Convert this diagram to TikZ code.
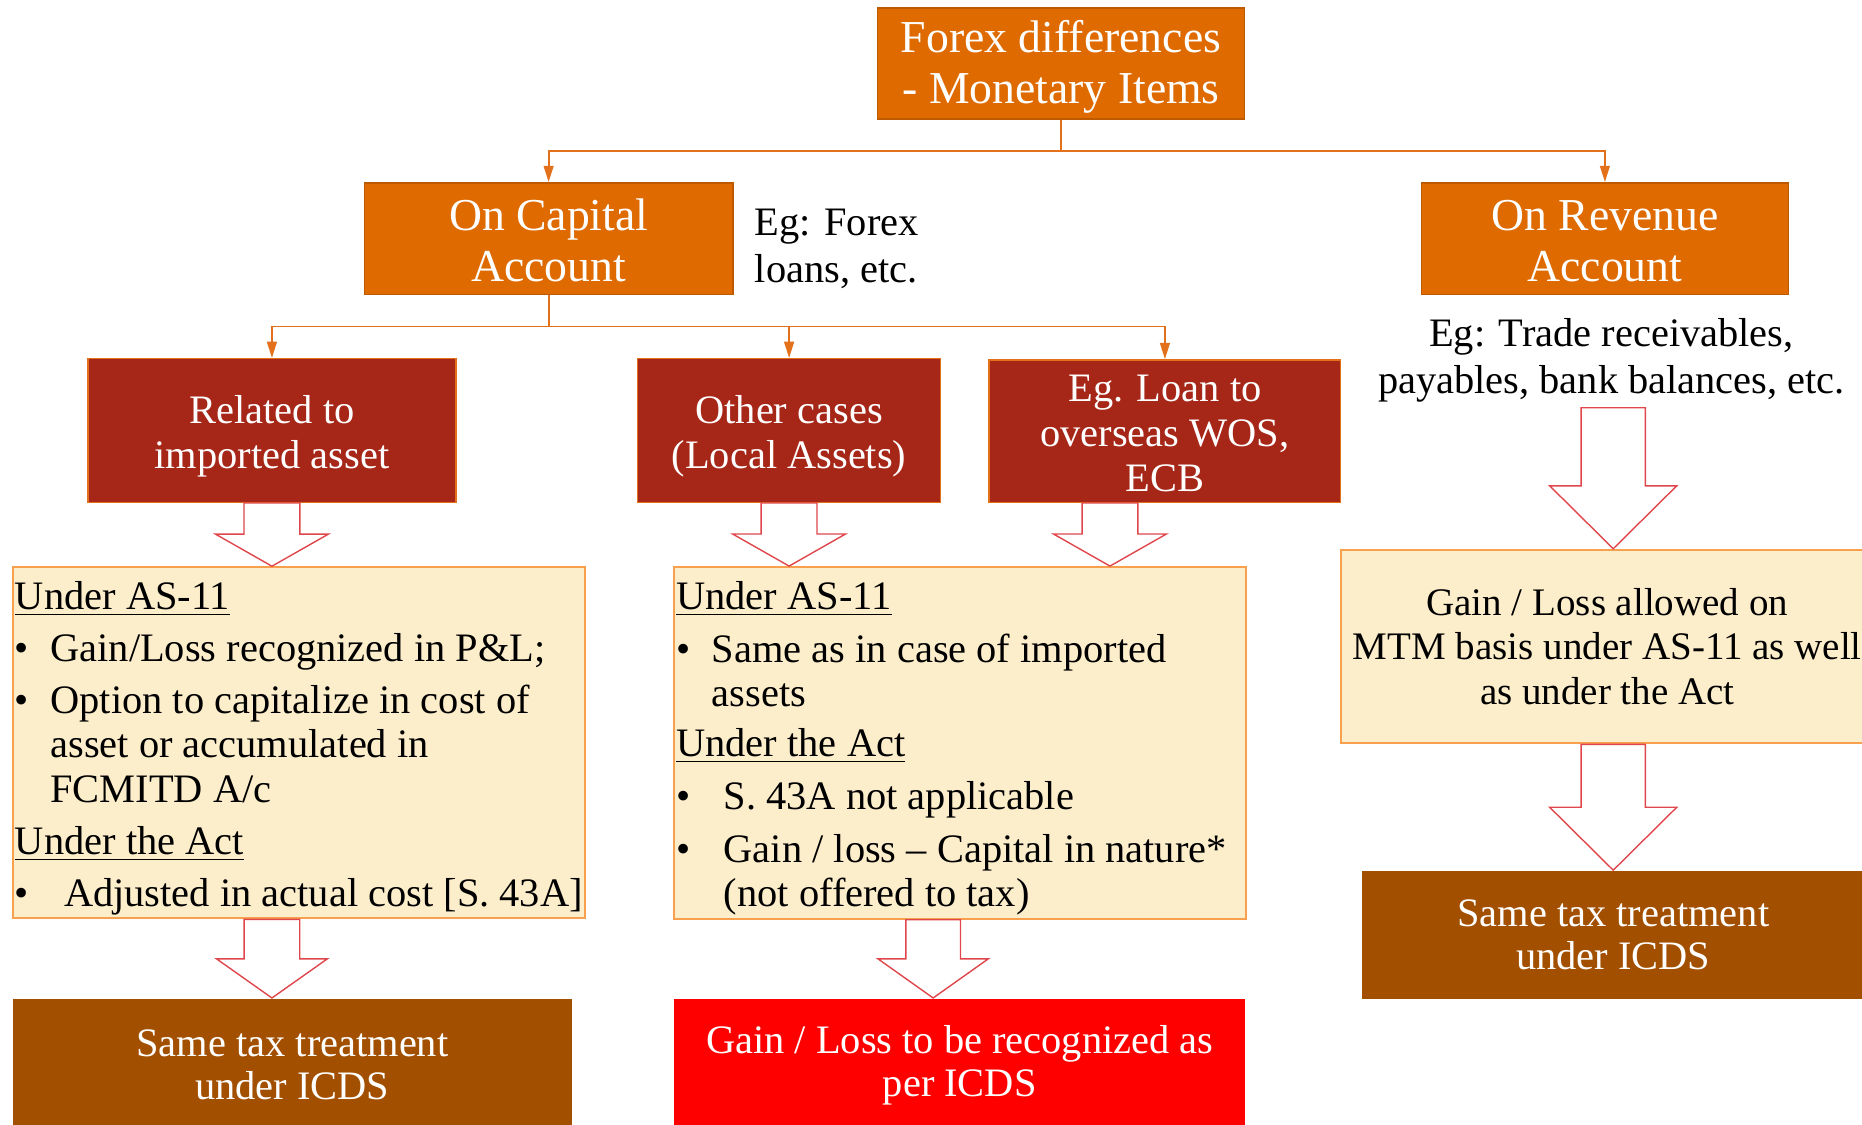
\documentclass[tikz,border=0pt]{standalone}
\usepackage{fontspec}
\setmainfont{Liberation Serif}
\usetikzlibrary{arrows.meta,calc}
\definecolor{orangebox}{HTML}{DE6A00}
\definecolor{orangeline}{HTML}{E3701B}
\definecolor{darkredbox}{HTML}{A62718}
\definecolor{cream}{HTML}{FDEECB}
\definecolor{creamline}{HTML}{F9A04F}
\definecolor{brownbox}{HTML}{A24F00}
\definecolor{fatred}{HTML}{E0474C}
\def\pxu{0.33788pt}
\newcommand{\bul}[1]{\makebox[#1][l]{\textbullet}}
\newcommand{\fatdown}[5]{%
    \draw[fatarrow] let \p1=#1, \p2=#2 in
        (\x1-#3*\pxu,\y1) -- (\x1+#3*\pxu,\y1) -- (\x1+#3*\pxu,\y2+#5*\pxu)
        -- (\x1+#4*\pxu,\y2+#5*\pxu) -- (\x1,\y2) -- (\x1-#4*\pxu,\y2+#5*\pxu)
        -- (\x1-#3*\pxu,\y2+#5*\pxu) -- cycle;}
\begin{document}
\begin{tikzpicture}[x=\pxu, y=-\pxu,
    size/.style 2 args={minimum width=#1*\pxu, minimum height=#2*\pxu},
    topbox/.style={rectangle, fill=orangebox, draw=orangebox!85!black, line width=0.5pt, text=white, align=center, inner sep=0pt, font=\fontsize{13}{14.5}\selectfont},
    redbox/.style={rectangle, fill=darkredbox, draw=orangeline, line width=0.4pt, text=white, align=center, inner sep=0pt, font=\fontsize{11.5}{12.8}\selectfont},
    notebox/.style={rectangle, fill=cream, draw=creamline, line width=0.6pt, inner sep=0pt, align=center, font=\fontsize{11.1}{12.7}\selectfont},
    endbox/.style={rectangle, text=white, align=center, inner sep=0pt, font=\fontsize{11.5}{12.3}\selectfont},
    bodytext/.style={inner sep=0pt, anchor=north west, align=left, font=\fontsize{11.5}{12.6}\selectfont},
    egtext/.style={inner sep=0pt, font=\fontsize{11.5}{13.2}\selectfont},
    conn/.style={draw=orangeline, line width=0.5pt},
    branch/.style={conn, -{Triangle[length=4.6pt,width=2.8pt]}},
    fatarrow/.style={draw=fatred, fill=white, line width=0.4pt}]
    \useasboundingbox (0,0) rectangle (1568,947);

    \node[topbox, size={309}{93}] (top) at (893.5,53.5) {\rule{0pt}{11.3pt}Forex differences\\- Monetary Items};
    \node[topbox, size={310}{94}] (cap) at (462,201) {\rule{0pt}{10pt}On Capital\\Account};
    \node[topbox, size={309}{94}] (rev) at (1351.5,201) {\rule{0pt}{10pt}On Revenue\\Account};
    \node[egtext, anchor=west, align=left] (egforex) at (635,209.5) {Eg: Forex\\loans, etc.};
    \node[egtext, align=center] (egtrade) at (1357,303.5) {Eg: Trade receivables,\\payables, bank balances, etc.};

    \node[redbox, size={310}{121}] (rel) at (229,362.5) {\rule{0pt}{11.2pt}Related to\\imported asset};
    \node[redbox, size={255}{121}] (oth) at (664.5,362.5) {\rule{0pt}{11.2pt}Other cases\\(Local Assets)};
    \node[redbox, size={296}{120}] (loan) at (981,363) {\rule{0pt}{9pt}Eg. Loan to\\overseas WOS,\\ECB};

    \node[notebox, size={481.6}{295.6}] (yelL) at (251.5,625.5) {};
    \node[notebox, size={482}{296}] (yelM) at (808.3,625.6) {};
    \node[notebox, size={449}{163}] (yelR) at (1353.5,544.5) {Gain / Loss allowed on\\MTM basis under AS-11 as well\\as under the Act};

    \node[bodytext] (listL) at (12,489) {\underline{Under AS-11}\\[2.2pt]
        \bul{10.1pt}Gain/Loss recognized in P\&L;\\[2.2pt]
        \bul{10.1pt}Option to capitalize in cost of\\
        \hspace*{10.1pt}asset or accumulated in\\
        \hspace*{10.1pt}FCMITD A/c\\[2.2pt]
        \underline{Under the Act}\\[2.2pt]
        \bul{14pt}Adjusted in actual cost [S. 43A]};
    \node[bodytext] (listM) at (569,489) {\underline{Under AS-11}\\[2.5pt]
        \bul{10.1pt}Same as in case of imported\\
        \hspace*{10.1pt}assets\\[1.5pt]
        \underline{Under the Act}\\[2.5pt]
        \bul{13.5pt}S. 43A not applicable\\[2.5pt]
        \bul{13.5pt}Gain / loss -- Capital in nature*\\
        \hspace*{13.5pt}(not offered to tax)};

    \node[endbox, fill=brownbox, size={471.3}{112}] (brL) at (246.2,897) {Same tax treatment\\under ICDS};
    \node[endbox, fill=red, size={481.2}{112}] (icds) at (808.2,897) {Gain / Loss to be recognized as\\per ICDS};
    \node[endbox, fill=brownbox, size={423}{107.6}] (brR) at (1358.5,787.2) {Same tax treatment\\under ICDS};

    \coordinate (split1) at (893.5,127);
    \coordinate (split2) at (462,275);
    \coordinate (rcol) at (1358.5,343.4);
    \draw[conn] (top) -- (split1);
    \draw[branch] (split1) -| (cap);
    \draw[branch] (split1) -| (rev);
    \draw[conn] (cap) -- (split2);
    \draw[branch] (split2) -| (rel);
    \draw[branch] (split2) -| (oth);
    \draw[branch] (split2) -| (loan);

    \fatdown{(rel.south)}{(yelL.north)}{23.5}{47.5}{27}
    \fatdown{(oth.south)}{(yelM.north)}{23.5}{47.5}{27}
    \fatdown{($(loan.south)+(-46.3,0)$)}{(yelM.north)}{23.5}{47.5}{27}
    \fatdown{(rcol)}{(yelR.north)}{27}{53.5}{53}
    \fatdown{(yelR.south -| rcol)}{(brR.north)}{27}{53.5}{53}
    \fatdown{(yelL.south -| rel.south)}{(brL.north)}{23.4}{46.7}{33}
    \fatdown{($(yelM.south)+(-22.5,0)$)}{(icds.north)}{23}{46.5}{33}
\end{tikzpicture}
\end{document}
